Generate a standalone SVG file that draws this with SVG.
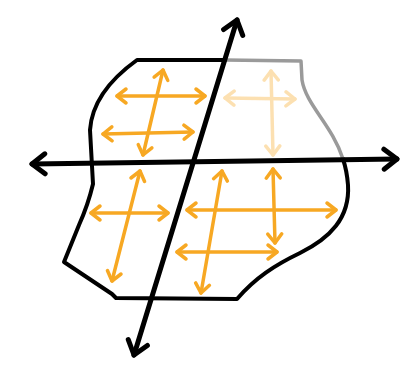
<svg xmlns="http://www.w3.org/2000/svg" width="401" height="368" viewBox="0 0 401 368">
<style>
.o{fill:none;stroke:#F7A823;stroke-width:3.5;stroke-linecap:round;marker-start:url(#oh);marker-end:url(#oh)}
.k{fill:none;stroke:#000;stroke-width:5;stroke-linecap:round;marker-start:url(#kh);marker-end:url(#kh)}
.b{fill:none;stroke:#000;stroke-width:4;stroke-linejoin:round;stroke-linecap:round}
</style>
<defs>
<marker id="oh" markerUnits="userSpaceOnUse" markerWidth="24" markerHeight="24" viewBox="-12 -12 24 24" refX="0" refY="0" orient="auto-start-reverse" overflow="visible">
<path d="M-9,-7 L0,0 L-9,7" fill="none" stroke="#F7A823" stroke-width="3.5" stroke-linecap="round" stroke-linejoin="round"/>
</marker>
<marker id="kh" markerUnits="userSpaceOnUse" markerWidth="30" markerHeight="30" viewBox="-15 -15 30 30" refX="0" refY="0" orient="auto-start-reverse" overflow="visible">
<path d="M-13,-10 L0,0 L-13,10" fill="none" stroke="#000" stroke-width="5" stroke-linecap="round" stroke-linejoin="round"/>
</marker>
</defs>
<rect width="401" height="368" fill="#fff"/>
<g id="outline">
<path class="b" d="M225,60 L137,60 C112,78 92,100 90,130 L93,184 Q88,205 79,225 L64,262 L112,294 L116,298 L237,299 C255,278 275,265 300,253 C330,238 350,218 348,185 C347,172 345,165 343,159"/>
<path d="M343,159 C332,125 306,105 302,80 L301,61 L225,60" fill="none" stroke="#9a9a9a" stroke-width="3.5" stroke-linejoin="round"/>
</g>
<g id="quadrant-top-left">
<line class="o" x1="117" y1="96" x2="205" y2="96"/>
<line class="o" x1="103" y1="134" x2="193" y2="132"/>
<line class="o" x1="163" y1="70" x2="143" y2="155"/>
</g>
<g id="quadrant-top-right" opacity="0.35">
<line class="o" x1="225" y1="98" x2="295" y2="99"/>
<line class="o" x1="271" y1="71" x2="273" y2="155"/>
</g>
<g id="quadrant-bottom-left">
<line class="o" x1="91" y1="213" x2="168" y2="213"/>
<line class="o" x1="140" y1="171" x2="112" y2="281"/>
</g>
<g id="quadrant-bottom-right">
<line class="o" x1="187" y1="210" x2="336" y2="210"/>
<line class="o" x1="177" y1="252" x2="277" y2="252"/>
<line class="o" x1="273" y1="169" x2="275" y2="243"/>
<line class="o" x1="222" y1="171" x2="201" y2="293"/>
</g>
<g id="axes">
<line class="k" x1="32" y1="164" x2="397" y2="159"/>
<line class="k" x1="237" y1="20" x2="134" y2="355"/>
</g>
</svg>
